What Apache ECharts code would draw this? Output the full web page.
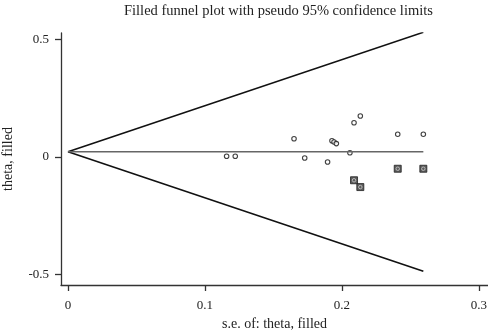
<!DOCTYPE html>
<html>
<head>
<meta charset="utf-8">
<script src="https://cdn.jsdelivr.net/npm/echarts@6/dist/echarts.min.js"></script>
<style>
  html, body { margin: 0; padding: 0; background: #fff; }
  #chart { width: 488px; height: 336px; }
</style>
</head>
<body>
<div id="chart"></div>
<script>
// observed studies (s.e., theta)
const obsSe    = [0.1158, 0.1221, 0.165, 0.1728, 0.1895, 0.1927, 0.1942, 0.1959, 0.2058, 0.2088, 0.2134, 0.2407, 0.2594];
const obsTheta = [0.003, 0.003, 0.078, -0.004, -0.021, 0.069, 0.064, 0.057, 0.018, 0.146, 0.1745, 0.097, 0.097];
// filled (imputed) studies
const fillSe    = [0.2088, 0.2134, 0.2407, 0.2594];
const fillTheta = [-0.099, -0.128, -0.050, -0.050];
// pooled estimate line and pseudo 95% limits
const funnelSe    = [0, 0.2594];
const pooled      = [0.0226, 0.0226];
const upperLimit  = [0.0226, 0.531];
const lowerLimit  = [0.0226, -0.486];
const xTicks = [0, 0.1, 0.2, 0.3];
const yTicks = [-0.5, 0, 0.5];

const font = 'Liberation Serif';
const zip = (a, b) => a.map((v, i) => [v, b[i]]);

const chart = echarts.init(document.getElementById('chart'));
chart.setOption({
    backgroundColor: '#fff',
    animation: false,
    title: {
        text: 'Filled funnel plot with pseudo 95% confidence limits',
        left: 119,
        top: -1,
        textStyle: { fontFamily: font, fontSize: 14.5, fontWeight: 'normal', color: '#222' }
    },
    grid: { left: 61, right: 0, top: 33, bottom: 51, outerBoundsMode: 'none', containLabel: false },
    xAxis: {
        type: 'value',
        min: -0.0051,
        max: 0.3066,
        name: 's.e. of: theta, filled',
        nameLocation: 'middle',
        nameGap: 30,
        nameTextStyle: { fontFamily: font, fontSize: 14, color: '#222' },
        axisLine: { show: true, onZero: false, lineStyle: { color: '#333', width: 1.3 } },
        axisTick: { show: true, length: 6, customValues: xTicks, lineStyle: { color: '#333', width: 1.3 } },
        axisLabel: { customValues: xTicks, margin: 14, fontFamily: font, fontSize: 13, color: '#222' },
        splitLine: { show: false }
    },
    yAxis: {
        type: 'value',
        min: -0.545,
        max: 0.528,
        name: 'theta, filled',
        nameLocation: 'middle',
        nameGap: 46,
        nameTextStyle: { fontFamily: font, fontSize: 14, color: '#222' },
        axisLine: { show: true, onZero: false, lineStyle: { color: '#333', width: 1.3 } },
        axisTick: { show: true, length: 6, customValues: yTicks, lineStyle: { color: '#333', width: 1.3 } },
        axisLabel: { customValues: yTicks, margin: 12, fontFamily: font, fontSize: 13, color: '#222' },
        splitLine: { show: false }
    },
    series: [
        {
            type: 'line', data: zip(funnelSe, upperLimit), symbol: 'none',
            lineStyle: { color: '#111', width: 1.6 }
        },
        {
            type: 'line', data: zip(funnelSe, lowerLimit), symbol: 'none',
            lineStyle: { color: '#111', width: 1.6 }
        },
        {
            type: 'line', data: zip(funnelSe, pooled), symbol: 'none',
            lineStyle: { color: '#666', width: 1.6 }
        },
        {
            type: 'scatter', data: zip(fillSe, fillTheta), symbol: 'rect', symbolSize: 7,
            itemStyle: { color: '#333', borderColor: '#222', borderWidth: 1 }
        },
        {
            type: 'scatter', data: zip(fillSe, fillTheta), symbol: 'circle', symbolSize: 3.5,
            itemStyle: { color: 'transparent', borderColor: '#ccc', borderWidth: 1 }
        },
        {
            type: 'scatter', data: zip(obsSe, obsTheta), symbol: 'circle', symbolSize: 4.5,
            itemStyle: { color: '#fff', borderColor: '#111', borderWidth: 1.1 }
        }
    ]
});
</script>
</body>
</html>
